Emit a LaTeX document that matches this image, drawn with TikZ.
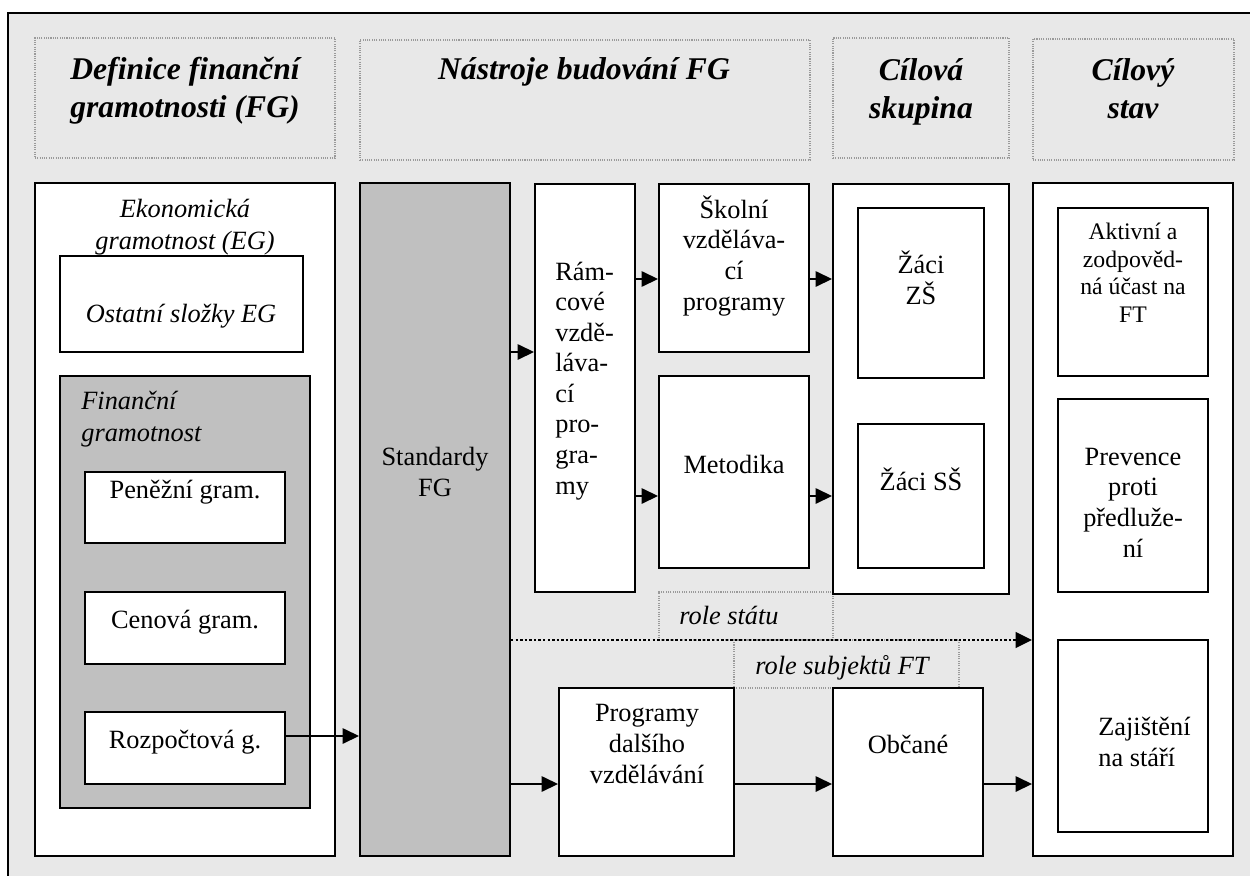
\documentclass[tikz,border=0pt]{standalone}
\usepackage{fontspec}
\setmainfont{Liberation Serif}
\usetikzlibrary{arrows.meta,fit}
\definecolor{bg}{HTML}{E8E8E8}
\definecolor{boxgray}{HTML}{C0C0C0}
\definecolor{dotgray}{HTML}{9A9A9A}
\tikzset{
 box/.style={draw=black, line width=1.1pt, fill=white, inner sep=0pt},
 graybox/.style={box, fill=boxgray},
 hdr/.style={draw=dotgray, line width=0.6pt, dash pattern=on 0.6pt off 0.7pt, inner sep=0pt},
 htext/.style={font=\fontsize{18}{21.5}\selectfont\bfseries\itshape, align=center, anchor=base, inner sep=0pt},
 btext/.style={font=\fontsize{15}{17.4}\selectfont, align=center, anchor=base, inner sep=0pt},
 itext/.style={btext, font=\fontsize{15}{17.8}\selectfont\itshape},
 arr/.style={line width=0.9pt, -{Triangle[length=0.33cm,width=0.31cm]}},
 dotarr/.style={arr, line width=1.6pt, dash pattern=on 1.4pt off 1.2pt},
}
\begin{document}
\begin{tikzpicture}[x=0.02cm,y=-0.02cm]
\useasboundingbox (0,0) rectangle (1250,875);
\fill[white] (0,0) rectangle (1250,875);
\begin{scope}
\clip (0,0) rectangle (1250,875);
\draw[line width=1.7pt, fill=bg] (8,13) rectangle (1275,900);
\end{scope}
% headers (multi-line texts are placed by the baseline of their last line)
\node[hdr, fit={(35,38)(335,158)}] (h1) {};
\node[hdr, fit={(360,40)(810,160)}] (h2) {};
\node[hdr, fit={(833,38)(1009,158)}] (h3) {};
\node[hdr, fit={(1033,39)(1234,160)}] (h4) {};
\node[htext] (t1) at (185,117) {Definice finanční\\gramotnosti (FG)};
\node[htext] (t2) at (584,80) {Nástroje budování FG};
\node[htext] (t3) at (921,118) {Cílová\\skupina};
\node[htext] (t4) at (1133,118) {Cílový\\stav};
% role labels
\node[hdr, fit={(659,592)(833,640)}] (rs) {};
\node[hdr, fit={(734,640)(959,688)}] (rsub) {};
% boxes
\node[box, fit={(35,183)(335,856)}] (eg) {};
\node[box, fit={(60,256)(303,352)}] (ost) {};
\node[graybox, fit={(60,376)(310,808)}] (fg) {};
\node[box, fit={(85,472)(285,543)}] (pen) {};
\node[box, fit={(85,592)(285,664)}] (cen) {};
\node[box, fit={(85,712)(285,784)}] (roz) {};
\node[graybox, fit={(360,183)(510,856)}] (std) {};
\node[box, fit={(535,184)(635,592)}] (rvp) {};
\node[box, fit={(659,184)(809,352)}] (svp) {};
\node[box, fit={(659,376)(809,568)}] (met) {};
\node[box, fit={(833,184)(1009,594)}] (cs) {};
\node[box, fit={(858,208)(984,378)}] (zs) {};
\node[box, fit={(858,424)(984,568)}] (ss) {};
\node[box, fit={(1033,183)(1233,856)}] (stav) {};
\node[box, fit={(1058,208)(1208,376)}] (akt) {};
\node[box, fit={(1058,399)(1208,592)}] (prev) {};
\node[box, fit={(1058,640)(1208,832)}] (zaj) {};
\node[box, fit={(559,688)(734,856)}] (pdv) {};
\node[box, fit={(833,688)(983,856)}] (obc) {};
% texts
\node[itext] (tEG) at (185,249) {Ekonomická\\gramotnost (EG)};
\node[itext] (tOst) at (181,322) {Ostatní složky EG};
\node[itext, align=left, anchor=base west] (tFG) at (81,441) {Finanční\\gramotnost};
\node[btext] (tPen) at (185,498) {Peněžní gram.};
\node[btext] (tCen) at (185,628) {Cenová gram.};
\node[btext] (tRoz) at (185,748) {Rozpočtová g.};
\node[btext] (tStd) at (435,496) {Standardy\\FG};
\node[btext, align=left, anchor=base west] (tRvp) at (555,494) {Rám-\\cové\\vzdě-\\láva-\\cí\\pro-\\gra-\\my};
\node[btext] (tSvp) at (734,310) {Školní\\vzděláva-\\cí\\programy};
\node[btext] (tMet) at (734,473) {Metodika};
\node[btext] (tZs) at (921,304) {Žáci\\ZŠ};
\node[btext] (tSs) at (921,490) {Žáci SŠ};
\node[btext, font=\fontsize{13.5}{15.6}\selectfont] (tAkt) at (1133,322) {Aktivní a\\zodpověd-\\ná účast na\\FT};
\node[btext] (tPrev) at (1133,557) {Prevence\\proti\\předluže-\\ní};
\node[btext, align=left, anchor=base west] (tZaj) at (1098,766) {Zajištění\\na stáří};
\node[btext] (tPdv) at (647,783) {Programy\\dalšího\\vzdělávání};
\node[btext] (tObc) at (908,753) {Občané};
\node[itext, anchor=base west] (tRs) at (679,624) {role státu};
\node[itext, anchor=base west] (tRsub) at (755,674) {role subjektů FT};
% arrow rows
\coordinate (ya) at (0,736);
\coordinate (yb) at (0,352);
\coordinate (yc) at (0,279);
\coordinate (yd) at (0,496);
\coordinate (ye) at (0,640);
\coordinate (yf) at (0,784);
\draw[arr] (roz.east |- ya) -- (std.west |- ya);
\draw[arr] (std.east |- yb) -- (rvp.west |- yb);
\draw[arr] (rvp.east |- yc) -- (svp.west |- yc);
\draw[arr] (rvp.east |- yd) -- (met.west |- yd);
\draw[arr] (svp.east |- yc) -- (cs.west |- yc);
\draw[arr] (met.east |- yd) -- (cs.west |- yd);
\draw[dotarr] (std.east |- ye) -- (stav.west |- ye);
\draw[arr] (std.east |- yf) -- (pdv.west |- yf);
\draw[arr] (pdv.east |- yf) -- (obc.west |- yf);
\draw[arr] (obc.east |- yf) -- (stav.west |- yf);
\end{tikzpicture}
\end{document}
